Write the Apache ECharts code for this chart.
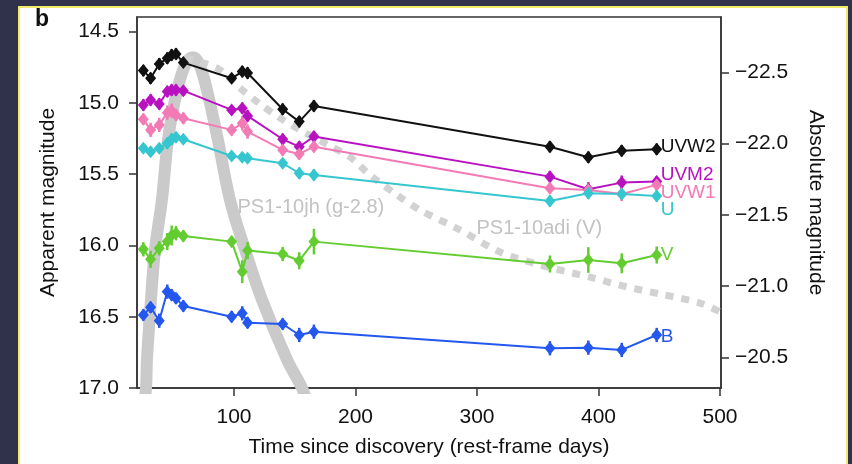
<!DOCTYPE html>
<html>
<head>
<meta charset="utf-8">
<script src="https://cdn.jsdelivr.net/npm/echarts@6/dist/echarts.min.js"></script>
<style>
html,body{margin:0;padding:0;background:#30324c;}
#c{width:852px;height:464px;}
</style>
</head>
<body>
<div id="c"></div>
<script>
// ---- data ----
const days = [25.4, 31.4, 38.5, 45.1, 48.7, 52.3, 58.3, 98.1, 106.8, 111.2, 140.1, 153.7, 165.8, 360.0, 391.6, 419.1, 447.9];

const uvw2 = [14.773, 14.827, 14.726, 14.686, 14.663, 14.656, 14.717, 14.827, 14.780, 14.790, 15.044, 15.131, 15.021, 15.307, 15.381, 15.335, 15.325];
const uvm2 = [15.014, 14.979, 15.007, 14.920, 14.910, 14.910, 14.914, 15.049, 15.037, 15.091, 15.255, 15.307, 15.236, 15.517, 15.606, 15.559, 15.552];
const uvw1 = [15.115, 15.189, 15.154, 15.068, 15.054, 15.084, 15.108, 15.189, 15.143, 15.201, 15.330, 15.358, 15.307, 15.599, 15.611, 15.639, 15.575];
const uBand = [15.318, 15.342, 15.318, 15.283, 15.255, 15.241, 15.255, 15.372, 15.381, 15.388, 15.423, 15.493, 15.505, 15.688, 15.634, 15.639, 15.653];
const vBand = [16.027, 16.097, 16.020, 15.973, 15.930, 15.914, 15.933, 15.973, 16.184, 16.036, 16.060, 16.107, 15.973, 16.130, 16.102, 16.125, 16.067];
const bBand = [16.488, 16.434, 16.528, 16.324, 16.347, 16.371, 16.425, 16.500, 16.476, 16.542, 16.551, 16.628, 16.605, 16.721, 16.717, 16.733, 16.628];

const uvw2Err = [0.04, 0.04, 0.04, 0.04, 0.04, 0.04, 0.03, 0.03, 0.04, 0.04, 0.04, 0.04, 0.04, 0.04, 0.04, 0.04, 0.04];
const uvm2Err = [0.04, 0.04, 0.04, 0.04, 0.04, 0.04, 0.03, 0.03, 0.04, 0.04, 0.04, 0.04, 0.04, 0.04, 0.05, 0.05, 0.04];
const uvw1Err = [0.04, 0.05, 0.05, 0.05, 0.05, 0.04, 0.04, 0.04, 0.05, 0.05, 0.04, 0.04, 0.04, 0.04, 0.05, 0.05, 0.04];
const uErr    = [0.03, 0.03, 0.03, 0.04, 0.04, 0.03, 0.03, 0.03, 0.03, 0.03, 0.03, 0.04, 0.04, 0.04, 0.04, 0.04, 0.04];
const vErr    = [0.05, 0.06, 0.05, 0.06, 0.07, 0.05, 0.04, 0.04, 0.08, 0.06, 0.05, 0.06, 0.09, 0.06, 0.09, 0.07, 0.06];
const bErr    = [0.04, 0.04, 0.05, 0.05, 0.04, 0.04, 0.04, 0.04, 0.05, 0.04, 0.04, 0.05, 0.05, 0.05, 0.05, 0.05, 0.05];

// comparison light curves
const jhDays = [24.0, 27.6, 28.4, 31.7, 35.0, 40.7, 45.7, 51.4, 56.5, 61.5, 66.3, 71.5, 77.8, 86.8, 96.7, 109.1, 123.0, 143.6, 156.0, 160.0];
const jhMag  = [17.30, 17.00, 16.80, 16.38, 16.03, 15.68, 15.26, 14.98, 14.81, 14.71, 14.68, 14.73, 14.91, 15.26, 15.68, 16.03, 16.38, 16.80, 17.00, 17.10];
const adiDays = [59.7, 72.0, 88.5, 104.9, 121.4, 137.9, 154.3, 179.0, 195.5, 211.9, 234.2, 253.1, 286.0, 318.9, 351.9, 395.5, 423.5, 450.6, 483.5, 500.5];
const adiMag  = [14.684, 14.712, 14.768, 14.895, 15.007, 15.105, 15.189, 15.302, 15.379, 15.505, 15.646, 15.751, 15.891, 16.046, 16.137, 16.228, 16.291, 16.340, 16.404, 16.467];

const noteText = ['PS1-10jh (g-2.8)', 'PS1-10adi (V)'];
const noteDays = [102.5, 299.2];
const noteMag  = [15.735, 15.88];

const xTicks = [100, 200, 300, 400, 500];
const appTicks = [14.5, 15.0, 15.5, 16.0, 16.5, 17.0];
const absTicks = [-22.5, -22.0, -21.5, -21.0, -20.5];
const distMod = 37.285;

const bands = [
  {name: 'UVW2', color: '#111111', mags: uvw2, errs: uvw2Err, off: [0, -3]},
  {name: 'UVM2', color: '#b812c0', mags: uvm2, errs: uvm2Err, off: [0, -7]},
  {name: 'UVW1', color: '#f27bb6', mags: uvw1, errs: uvw1Err, off: [0, 8]},
  {name: 'U',    color: '#36c6cf', mags: uBand, errs: uErr, off: [0, 14]},
  {name: 'V',    color: '#62cc30', mags: vBand, errs: vErr, off: [0, 0]},
  {name: 'B',    color: '#2457ee', mags: bBand, errs: bErr, off: [0, 2]}
];

const yMin = 14.397, yMax = 17.0;
const xMin = 20.2, xMax = 500.8;

const series = [];
series.push({
  type: 'line', name: 'PS1-10jh', data: jhDays.map((d, i) => [d, jhMag[i]]),
  smooth: 0.35, showSymbol: false, symbol: 'none', z: 1,
  lineStyle: {color: '#cacaca', width: 12}
});
series.push({
  type: 'line', name: 'PS1-10adi', data: adiDays.map((d, i) => [d, adiMag[i]]),
  smooth: 0.3, showSymbol: false, symbol: 'none', z: 1,
  lineStyle: {color: '#d2d2d2', width: 7, type: [8, 8], cap: 'butt'}
});
bands.forEach(b => {
  series.push({
    type: 'custom', name: b.name + ' err', z: 3,
    data: days.map((d, i) => [d, b.mags[i], b.errs[i]]),
    encode: {x: 0, y: 1},
    renderItem: function (params, api) {
      const x = api.value(0), y = api.value(1), e = api.value(2);
      const p1 = api.coord([x, y - e]);
      const p2 = api.coord([x, y + e]);
      return {type: 'line', shape: {x1: p1[0], y1: p1[1], x2: p2[0], y2: p2[1]},
              style: {stroke: b.color, lineWidth: 2.5}};
    }
  });
  series.push({
    type: 'line', name: b.name, z: 4,
    data: days.map((d, i) => [d, b.mags[i]]),
    symbol: 'diamond', symbolSize: [11, 13], showSymbol: true,
    itemStyle: {color: b.color},
    lineStyle: {color: b.color, width: 2},
    endLabel: {show: true, formatter: b.name, color: b.color, fontSize: 19,
               fontFamily: 'Liberation Sans', distance: 4, offset: b.off}
  });
});
// text annotations for the comparison curves
series.push({
  type: 'scatter', name: 'notes', symbol: 'circle', symbolSize: 1, z: 5, silent: true,
  itemStyle: {color: 'rgba(0,0,0,0)'},
  data: noteDays.map((d, i) => ({value: [d, noteMag[i]], label: {formatter: noteText[i]}})),
  label: {show: true, position: 'right', distance: 0, color: '#b3b3b3', fontSize: 20,
          fontFamily: 'Liberation Sans'}
});

const axisFont = {color: '#111', fontSize: 21, fontFamily: 'Liberation Sans'};
const chart = echarts.init(document.getElementById('c'));
chart.setOption({
  animation: false,
  backgroundColor: '#30324c',
  graphic: [
    {type: 'rect', shape: {x: 19, y: 7, width: 828, height: 470}, z: -10,
     style: {fill: '#ffffff', stroke: '#f2ea6a', lineWidth: 2}},
    {type: 'text', left: 35, top: 8, z: 10,
     style: {text: 'b', font: 'bold 23px "Liberation Sans"', fill: '#111'}}
  ],
  grid: {left: 137, top: 17, right: 131, bottom: 76, show: true, borderColor: '#333', borderWidth: 1.5, backgroundColor: 'transparent'},
  xAxis: {
    type: 'value', min: xMin, max: xMax,
    name: 'Time since discovery (rest-frame days)', nameLocation: 'middle', nameGap: 49,
    nameTextStyle: {color: '#111', fontSize: 21, fontFamily: 'Liberation Sans'},
    axisLine: {show: true, lineStyle: {color: '#333', width: 1.5}},
    axisTick: {show: true, length: 8, lineStyle: {color: '#333', width: 1.5}, customValues: xTicks},
    axisLabel: Object.assign({margin: 19, customValues: xTicks, formatter: v => String(Math.round(v))}, axisFont),
    splitLine: {show: false}
  },
  yAxis: [
    {
      type: 'value', inverse: true, min: yMin, max: yMax, position: 'left',
      name: 'Apparent magnitude', nameLocation: 'middle', nameGap: 78,
      nameTextStyle: {color: '#111', fontSize: 21, fontFamily: 'Liberation Sans'},
      axisLine: {show: true, lineStyle: {color: '#333', width: 1.5}},
      axisTick: {show: true, length: 8, lineStyle: {color: '#333', width: 1.5}, customValues: appTicks},
      axisLabel: Object.assign({margin: 18, customValues: appTicks, formatter: v => Number(v).toFixed(1)}, axisFont),
      splitLine: {show: false}
    },
    {
      type: 'value', inverse: true, min: yMin - distMod, max: yMax - distMod, position: 'right',
      name: 'Absolute magnitude', nameLocation: 'middle', nameGap: 84, nameRotate: -90,
      nameTextStyle: {color: '#111', fontSize: 21, fontFamily: 'Liberation Sans'},
      axisLine: {show: true, lineStyle: {color: '#333', width: 1.5}},
      axisTick: {show: true, length: 8, lineStyle: {color: '#333', width: 1.5}, customValues: absTicks},
      axisLabel: Object.assign({margin: 14, customValues: absTicks, formatter: v => '\u2212' + Math.abs(v).toFixed(1)}, axisFont),
      splitLine: {show: false}
    }
  ],
  series: series
});
</script>
</body>
</html>
